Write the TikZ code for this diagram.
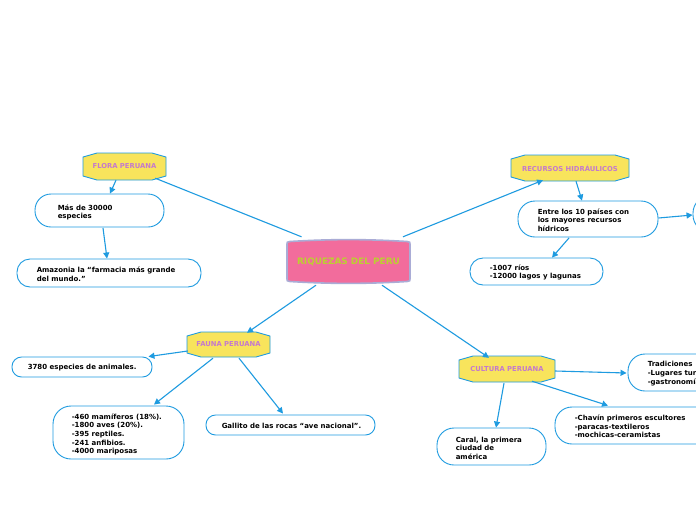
\documentclass[tikz,border=0pt]{standalone}
\usepackage{fontspec}
\setmainfont{DejaVu Sans}
\usetikzlibrary{calc,arrows.meta}
\definecolor{lnblue}{RGB}{30,155,224}
\definecolor{hexfill}{RGB}{248,228,92}
\definecolor{hextxt}{RGB}{196,122,204}
\definecolor{perufill}{RGB}{242,108,156}
\definecolor{peruline}{RGB}{170,172,214}
\definecolor{perutxt}{RGB}{188,208,48}
\tikzset{
 conn/.style={draw=lnblue, line width=1.1pt},
 arr/.style={conn, -{Triangle[length=6pt,width=6pt]}},
 boxst/.style={draw=lnblue, line width=0.9pt, fill=white, inner sep=0pt},
 btxt/.style={font=\fontsize{7}{8.6}\selectfont\bfseries, align=left, inner sep=0pt, anchor=west, text=black},
 hexdraw/.style={draw=lnblue, line width=0.9pt, fill=hexfill},
 hexlbl/.style={font=\fontsize{6.8}{8}\selectfont\bfseries, text=hextxt, inner sep=0pt},
}
\newcommand\rbox[6]{% name x0 y0 x1 y1 radius
 \node[boxst, rounded corners=#6pt, minimum width={(#4-#2)*1pt}, minimum height={(#5-#3)*1pt}] (#1) at ({(#2+#4)/2},{(#3+#5)/2}) {};
}
\newcommand\hexb[6]{% name cx cy w h text
 \draw[hexdraw] ({#2-#4/2},{#3-#5/2+4}) -- ({#2-#4/2+14},{#3-#5/2}) -- ({#2+#4/2-14},{#3-#5/2}) -- ({#2+#4/2},{#3-#5/2+4}) -- ({#2+#4/2},{#3+#5/2-4}) -- ({#2+#4/2-14},{#3+#5/2}) -- ({#2-#4/2+14},{#3+#5/2}) -- ({#2-#4/2},{#3+#5/2-4}) -- cycle;
 \node[hexlbl, minimum width={#4*1pt}, minimum height={#5*1pt}] (#1) at (#2,#3) {#6};
}
\begin{document}
\begin{tikzpicture}[x=1pt,y=-1pt]
\useasboundingbox (0,0) rectangle (696,520);
\clip (0,0) rectangle (696,520);
\fill[white] (0,0) rectangle (696,520);

% central
\draw[fill=perufill, draw=peruline, line width=1.6pt] (287,244) -- (287,279) .. controls (287,281) .. (290,281.5) .. controls (330,284) and (367,284) .. (407,281.5) .. controls (410,281) .. (410,279) -- (410,244) .. controls (410,242) .. (407,241.5) .. controls (367,239) and (330,239) .. (290,241.5) .. controls (287,242) .. (287,244) -- cycle;
\node[font=\fontsize{8.9}{10}\selectfont\bfseries, text=perutxt, minimum width=123pt, minimum height=42pt, inner sep=0pt] (peru) at (348.5,262) {RIQUEZAS DEL PERU};

% hexagon nodes
\hexb{flora}{124.5}{166.5}{83}{27}{FLORA PERUANA}
\hexb{rec}{570}{168}{118}{26}{RECURSOS HIDRÁULICOS}
\hexb{fauna}{228.5}{344.5}{83}{25}{FAUNA PERUANA}
\hexb{cult}{507}{369}{96}{26}{CULTURA PERUANA}

% rounded boxes
\rbox{mas}{35}{194}{164}{227}{16}
\node[btxt] (mastxt) at ($(mas.west)+(23,2)$) {Más de 30000\\especies};
\rbox{amaz}{17}{259}{201}{287}{13}
\node[btxt] (amaztxt) at ($(amaz.west)+(20,1)$) {Amazonia la “farmacia más grande\\del mundo.”};
\rbox{entre}{518}{201}{658}{237}{17}
\node[btxt] (entretxt) at ($(entre.west)+(20,1)$) {Entre los 10 países con\\los mayores recursos\\hídricos};
\rbox{rios}{470}{258}{603}{285}{13}
\node[btxt] (riostxt) at ($(rios.west)+(20,1)$) {-1007 ríos\\-12000 lagos y lagunas};
\rbox{rbx}{693}{196}{800}{232}{17}
\rbox{anim}{12}{357}{152}{377}{9.5}
\node[btxt] (animtxt) at ($(anim.west)+(16,1)$) {3780 especies de animales.};
\rbox{num}{53}{406}{184}{459}{18}
\node[btxt] (numtxt) at ($(num.west)+(19,2)$) {-460 mamíferos (18\%).\\-1800 aves (20\%).\\-395 reptiles.\\-241 anfibios.\\-4000 mariposas};
\rbox{gall}{206}{415}{375}{435}{9.5}
\node[btxt] (galltxt) at ($(gall.west)+(16,1)$) {Gallito de las rocas “ave nacional”.};
\rbox{caral}{437}{428}{546}{465}{17}
\node[btxt] (caraltxt) at ($(caral.west)+(19,1.5)$) {Caral, la primera\\ciudad de\\américa};
\rbox{chav}{555}{407}{800}{444}{17}
\node[btxt] (chavtxt) at ($(chav.west)+(20,1)$) {-Chavín primeros escultores\\-paracas-textileros\\-mochicas-ceramistas};
\rbox{trad}{628}{354}{800}{391}{17}
\node[btxt] (tradtxt) at ($(trad.west)+(20,1)$) {Tradiciones\\-Lugares turísticos\\-gastronomía};

% connectors
\draw[conn] ($(peru.north)+(-47,-4)$) -- ($(flora.south east)+(-11,-2)$);
\draw[arr] ($(flora.south)+(-8.5,0)$) -- ($(mas.north)+(10.5,0)$);
\draw[arr] ($(mas.south)+(3.5,0.5)$) -- ($(amaz.north)+(-2,0)$);
\draw[arr] ($(peru.north)+(54.5,-4)$) -- ($(rec.south)+(-27,-1)$);
\draw[arr] ($(rec.south)+(6,0)$) -- ($(entre.north)+(-6,0)$);
\draw[arr] ($(entre.south)+(-19,0.5)$) -- ($(rios.north)+(15.5,0)$);
\draw[arr] ($(entre.east)+(0,-1)$) -- ($(rbx.west)+(0,1)$);
\draw[arr] ($(peru.south)+(-32.5,2)$) -- ($(fauna.north)+(18.5,1)$);
\draw[arr] ($(fauna.west)+(1,6.5)$) -- ($(anim.north east)+(-4,0)$);
\draw[arr] ($(fauna.south)+(-15.5,1)$) -- ($(num.north)+(35.5,-1)$);
\draw[arr] ($(fauna.south)+(10.5,1)$) -- ($(gall.north)+(-7.5,-1)$);
\draw[arr] ($(peru.south)+(33.5,2)$) -- ($(cult.north)+(-18,2)$);
\draw[arr] ($(cult.east)+(0,2)$) -- ($(trad.west)+(-1,0.5)$);
\draw[arr] ($(cult.south)+(25,-1)$) -- ($(chav.north)+(-69.5,-1)$);
\draw[arr] ($(cult.south)+(-3,1)$) -- ($(caral.north)+(4.5,0)$);
\end{tikzpicture}
\end{document}
